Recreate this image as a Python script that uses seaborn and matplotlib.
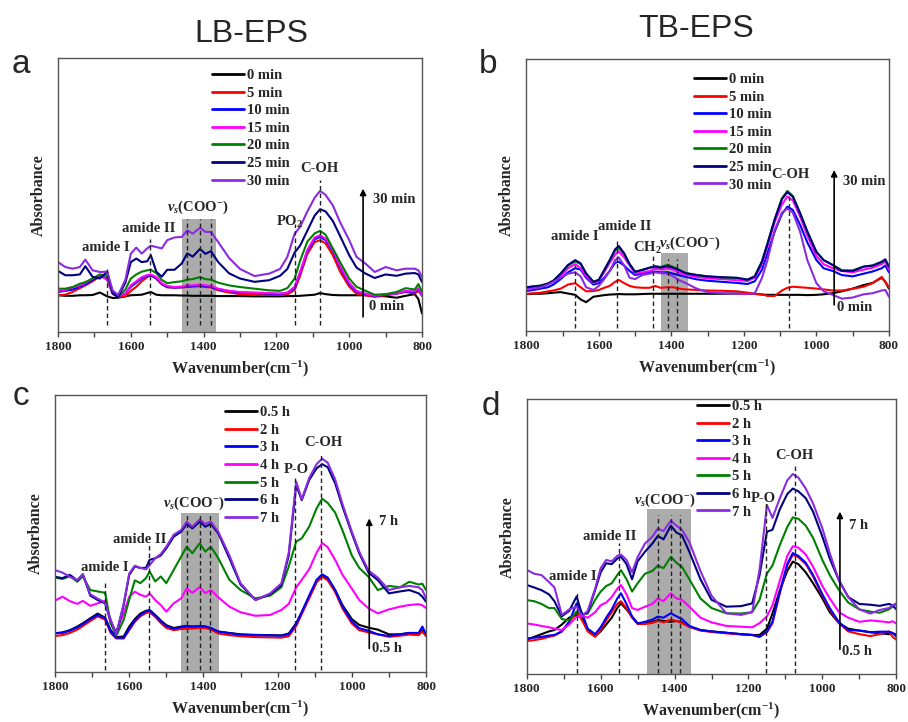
import matplotlib
matplotlib.use("Agg")
import matplotlib.pyplot as plt
from matplotlib.lines import Line2D
import pandas as pd
import seaborn as sns

# ---------------------------------------------------------------- data
wavenumber = [1800, 1780, 1760, 1740, 1725, 1705, 1685, 1665, 1650, 1635,
              1615, 1600, 1585, 1570, 1555, 1545, 1530, 1515, 1500, 1480,
              1460, 1445, 1430, 1410, 1395, 1380, 1360, 1330, 1300, 1260,
              1220, 1190, 1170, 1150, 1135, 1115, 1095, 1080, 1065, 1045,
              1025, 1000, 980, 955, 930, 900, 870, 845, 820, 810, 800]

minute_labels = ["0 min", "5 min", "10 min", "15 min", "20 min", "25 min", "30 min"]
hour_labels = ["0.5 h", "2 h", "3 h", "4 h", "5 h", "6 h", "7 h"]

# LB-EPS, short exposure (min)
LB_0MIN = [13.4, 13.2, 13.2, 13.4, 13.4, 13.5, 14.4, 13.0, 12.4, 12.5,
           13.0, 13.4, 13.5, 13.6, 14.2, 14.6, 13.6, 13.4, 13.4, 13.4,
           13.3, 13.3, 13.2, 13.2, 13.2, 13.2, 13.1, 13.1, 13.1, 13.0,
           13.0, 13.0, 13.1, 13.1, 13.2, 13.4, 13.6, 14.2, 13.8, 13.5,
           13.4, 13.4, 13.4, 13.4, 13.2, 13.0, 12.5, 13.2, 13.8, 12.0, 6.7]
LB_5MIN = [13.4, 13.6, 14.6, 16.0, 17.0, 18.5, 20.3, 19.5, 14.0, 12.8,
           13.0, 15.0, 16.5, 18.5, 20.0, 20.7, 19.5, 17.4, 16.3, 16.2,
           16.3, 16.4, 16.5, 16.7, 16.4, 16.3, 15.2, 14.4, 13.8, 13.6,
           13.6, 13.5, 13.7, 15.3, 20.5, 28.5, 32.8, 33.5, 32.3, 28.0,
           22.0, 16.5, 14.0, 13.4, 12.8, 13.4, 14.0, 14.6, 14.0, 15.0, 13.4]
LB_10MIN = [14.6, 15.0, 15.5, 16.5, 17.3, 19.0, 20.5, 19.5, 14.2, 13.0,
            14.0, 16.5, 18.0, 19.5, 20.5, 20.7, 19.5, 17.5, 16.4, 16.2,
            16.3, 16.6, 16.8, 17.0, 16.7, 16.4, 15.6, 14.9, 14.4, 14.2,
            14.0, 13.9, 14.2, 16.0, 21.5, 29.5, 33.8, 34.7, 33.5, 29.5,
            23.5, 17.5, 14.8, 13.8, 13.1, 13.6, 14.0, 14.8, 14.5, 15.6, 13.2]
LB_15MIN = [15.0, 15.3, 16.3, 17.0, 17.9, 19.5, 20.8, 19.0, 14.0, 13.0,
            14.0, 17.0, 18.5, 20.0, 20.8, 21.0, 20.0, 17.8, 16.8, 16.4,
            16.6, 17.0, 17.0, 17.3, 17.0, 16.8, 15.8, 15.0, 14.6, 14.4,
            14.2, 14.0, 14.4, 16.5, 22.0, 30.0, 34.5, 35.3, 34.0, 30.0,
            24.0, 18.0, 15.0, 14.0, 13.2, 13.8, 14.0, 15.0, 14.8, 16.0, 13.4]
LB_20MIN = [15.8, 15.8, 16.4, 17.6, 18.2, 19.5, 21.0, 20.5, 14.6, 12.8,
            15.5, 19.5, 21.0, 22.0, 22.5, 22.7, 21.5, 19.0, 17.8, 18.2,
            18.5, 19.1, 19.3, 20.0, 19.3, 19.1, 18.0, 17.0, 16.4, 15.8,
            15.2, 15.0, 16.0, 19.5, 26.0, 33.0, 36.0, 36.9, 35.5, 30.5,
            25.5, 19.5, 16.5, 15.0, 13.6, 13.8, 14.6, 16.0, 15.5, 17.5, 14.6]
LB_25MIN = [22.3, 20.7, 20.7, 21.0, 24.0, 20.1, 19.5, 22.0, 14.0, 12.8,
            18.0, 25.5, 26.8, 25.5, 25.8, 28.0, 22.0, 20.2, 22.7, 22.7,
            25.0, 28.7, 27.5, 30.3, 28.5, 29.5, 25.5, 21.4, 19.5, 18.3,
            18.9, 20.5, 23.0, 29.0, 31.5, 37.0, 42.5, 44.8, 44.0, 40.5,
            35.0, 28.0, 23.5, 21.3, 19.7, 21.0, 20.5, 21.3, 21.5, 21.0, 18.2]
LB_30MIN = [25.5, 23.7, 23.1, 23.7, 26.4, 22.5, 21.9, 22.0, 15.2, 13.5,
            19.0, 28.6, 30.8, 28.6, 30.5, 31.5, 31.0, 30.5, 33.5, 34.5,
            34.7, 37.1, 35.9, 38.0, 36.5, 36.5, 32.8, 27.0, 23.0, 20.4,
            21.3, 23.0, 27.4, 35.9, 38.3, 44.0, 49.0, 51.5, 50.0, 46.2,
            40.0, 33.5, 27.4, 24.9, 21.9, 23.7, 22.5, 23.1, 23.1, 22.5, 20.1]

# TB-EPS, short exposure (min)
TB_0MIN = [13.5, 13.6, 13.6, 13.8, 14.0, 14.2, 13.7, 13.2, 11.5, 10.5,
           12.5, 12.8, 13.1, 13.3, 13.4, 13.5, 13.4, 13.4, 13.4, 13.5,
           13.6, 13.6, 13.6, 13.6, 13.6, 13.6, 13.6, 13.6, 13.6, 13.6,
           13.7, 13.7, 13.6, 13.3, 13.2, 13.2, 13.2, 13.2, 13.2, 13.2,
           13.1, 13.2, 13.4, 13.8, 14.5, 15.5, 16.8, 17.6, 19.5, 18.0, 15.5]
TB_5MIN = [13.5, 13.8, 14.0, 14.5, 14.8, 15.5, 17.0, 17.5, 16.0, 14.5,
           14.6, 15.0, 15.8, 16.5, 18.0, 18.7, 17.5, 16.5, 16.0, 15.8,
           15.8, 16.5, 15.8, 16.0, 16.0, 15.5, 15.2, 15.0, 14.8, 14.7,
           14.5, 14.0, 13.5, 13.4, 12.8, 12.8, 14.8, 15.8, 16.2, 16.0,
           15.8, 15.5, 15.2, 14.8, 14.8, 15.4, 16.2, 17.5, 19.8, 18.0, 16.0]
TB_10MIN = [14.6, 15.0, 15.5, 16.0, 17.0, 19.0, 21.5, 23.0, 22.5, 19.5,
            17.0, 17.5, 19.5, 22.0, 25.0, 25.4, 24.0, 22.0, 20.5, 21.0,
            21.5, 21.8, 21.5, 21.5, 21.0, 20.5, 19.8, 18.9, 18.4, 18.0,
            17.6, 17.2, 18.2, 22.5, 28.5, 36.5, 43.0, 45.7, 44.5, 39.0,
            32.5, 26.0, 23.0, 22.0, 20.5, 20.0, 21.0, 21.8, 23.0, 24.0, 21.5]
TB_15MIN = [15.5, 16.0, 16.5, 17.2, 18.2, 20.0, 23.0, 24.5, 23.0, 20.0,
            17.5, 18.5, 21.5, 25.0, 28.0, 29.2, 27.0, 24.0, 21.0, 21.5,
            22.0, 22.8, 22.5, 23.0, 22.5, 21.5, 20.5, 19.8, 19.3, 19.0,
            18.6, 18.3, 19.5, 24.5, 31.0, 40.0, 46.5, 49.4, 48.0, 42.0,
            35.0, 27.5, 24.5, 23.0, 22.0, 21.5, 22.5, 23.2, 24.5, 25.5, 22.5]
TB_20MIN = [16.0, 16.3, 16.7, 17.4, 18.5, 21.0, 24.0, 25.5, 24.5, 21.0,
            18.0, 18.7, 22.2, 25.8, 29.5, 30.5, 28.2, 24.5, 21.7, 22.4,
            23.2, 23.8, 23.5, 24.3, 23.5, 22.5, 21.2, 20.5, 20.0, 19.6,
            19.4, 18.8, 20.0, 25.5, 32.0, 41.0, 48.8, 51.5, 49.6, 43.4,
            36.5, 29.0, 26.0, 24.2, 22.3, 22.2, 23.6, 24.0, 25.2, 26.0, 23.6]
TB_25MIN = [16.0, 16.3, 16.5, 17.4, 18.4, 21.1, 24.2, 26.0, 24.8, 21.1,
            18.0, 18.7, 22.4, 26.0, 30.0, 31.2, 28.5, 24.5, 21.7, 22.4,
            23.2, 23.6, 23.2, 23.8, 23.2, 22.4, 21.2, 20.5, 20.0, 19.7,
            19.5, 18.8, 20.0, 25.5, 32.0, 41.0, 48.5, 51.0, 49.4, 43.2,
            36.5, 29.0, 26.0, 24.2, 22.0, 22.0, 23.6, 24.0, 25.4, 26.3, 23.6]
TB_30MIN = [15.0, 15.5, 16.0, 17.0, 18.0, 19.6, 21.0, 21.5, 20.0, 16.0,
            15.0, 16.5, 19.0, 22.0, 26.0, 27.0, 24.0, 19.5, 19.0, 20.5,
            21.0, 21.5, 21.2, 21.0, 20.0, 18.7, 17.5, 15.5, 14.2, 13.8,
            13.6, 13.5, 13.7, 19.5, 26.0, 37.0, 43.5, 45.0, 43.5, 36.5,
            26.0, 17.5, 14.5, 13.2, 11.8, 12.2, 13.4, 13.8, 14.8, 15.0, 12.5]

# LB-EPS, long exposure (h)
LB_05H = [13.9, 14.2, 15.0, 16.3, 17.5, 19.3, 21.0, 19.5, 15.0, 12.5,
          12.7, 16.3, 19.0, 21.0, 22.0, 22.3, 20.5, 18.5, 16.8, 15.8,
          16.3, 16.5, 16.3, 16.3, 16.2, 15.6, 14.5, 14.0, 13.5, 13.3,
          13.2, 13.1, 13.8, 17.5, 21.5, 27.0, 32.5, 34.9, 33.7, 29.5,
          24.0, 19.0, 16.9, 15.9, 15.2, 13.5, 13.5, 14.0, 13.8, 15.0, 13.5]
LB_2H = [12.9, 13.2, 14.0, 15.2, 16.5, 18.3, 20.0, 18.8, 14.0, 12.0,
         12.0, 15.0, 18.0, 20.0, 21.2, 21.5, 19.8, 17.6, 15.8, 15.0,
         15.4, 15.6, 15.6, 15.8, 15.8, 15.2, 13.8, 13.2, 12.8, 12.5,
         12.4, 12.3, 12.8, 16.5, 20.8, 26.5, 32.3, 34.3, 33.0, 28.8,
         22.8, 17.4, 15.0, 14.2, 13.5, 12.6, 13.0, 13.4, 13.2, 14.5, 12.8]
LB_3H = [13.9, 14.0, 14.8, 16.0, 17.2, 19.0, 20.5, 19.3, 14.5, 12.3,
         12.2, 15.5, 18.5, 20.5, 21.8, 22.0, 20.3, 18.2, 16.5, 15.5,
         16.1, 16.3, 16.3, 16.5, 16.4, 15.8, 14.5, 13.9, 13.4, 13.2,
         13.1, 13.0, 13.5, 17.2, 21.5, 27.5, 33.2, 35.2, 34.0, 29.5,
         23.5, 18.1, 15.7, 14.8, 13.5, 12.9, 13.5, 14.0, 14.0, 16.3, 13.6]
LB_4H = [25.7, 27.1, 25.5, 24.5, 25.6, 23.8, 24.7, 25.5, 17.5, 14.5,
         21.0, 27.1, 28.9, 27.8, 27.1, 28.3, 25.9, 24.1, 21.7, 24.7,
         26.5, 30.1, 28.5, 30.5, 28.4, 29.5, 26.9, 23.5, 21.5, 20.2,
         20.5, 22.3, 24.5, 30.5, 33.2, 37.0, 43.0, 46.5, 45.0, 40.4,
         35.0, 30.0, 25.9, 22.9, 21.1, 22.5, 23.5, 24.1, 24.4, 24.0, 23.0]
LB_5H = [34.0, 33.5, 34.5, 32.5, 34.5, 29.5, 29.0, 28.5, 17.5, 13.0,
         18.7, 26.0, 33.0, 32.0, 33.8, 36.2, 32.6, 34.4, 32.0, 36.8,
         41.6, 45.2, 42.8, 46.4, 43.4, 45.2, 41.0, 33.2, 29.5, 26.5,
         27.5, 30.5, 38.0, 47.0, 48.2, 52.4, 59.0, 62.5, 61.0, 57.5,
         51.0, 42.0, 37.5, 34.3, 29.5, 31.0, 30.5, 32.5, 31.5, 31.8, 29.5]
LB_6H = [34.3, 33.8, 35.0, 33.0, 35.2, 27.5, 25.9, 24.7, 18.5, 13.5,
         24.0, 35.0, 38.0, 37.5, 37.5, 40.4, 41.0, 42.0, 44.6, 48.8,
         50.6, 53.4, 51.8, 54.2, 52.4, 53.4, 50.0, 41.0, 31.5, 25.9,
         28.0, 31.3, 42.0, 67.5, 62.0, 69.3, 73.5, 75.0, 73.9, 68.1,
         59.6, 50.0, 42.8, 35.8, 33.1, 28.3, 29.0, 29.5, 28.3, 27.1, 25.3]
LB_7H = [36.7, 35.8, 34.3, 33.1, 35.2, 28.0, 26.4, 25.0, 18.7, 13.5,
         24.5, 35.5, 38.3, 37.5, 37.0, 38.5, 41.0, 42.5, 45.2, 49.5,
         51.2, 54.2, 52.4, 55.0, 53.4, 54.2, 50.6, 42.0, 32.0, 25.9,
         28.3, 31.9, 43.0, 68.7, 62.3, 70.0, 75.0, 77.0, 75.5, 69.5,
         60.5, 50.6, 43.4, 36.5, 34.0, 29.5, 30.5, 31.0, 30.5, 29.5, 26.5]

# TB-EPS, long exposure (h)
TB_05H = [12.4, 13.5, 14.5, 15.5, 16.0, 18.0, 20.5, 21.5, 20.5, 16.0,
          13.8, 15.5, 18.0, 20.5, 24.0, 25.7, 23.5, 20.9, 18.4, 18.4,
          19.0, 19.6, 19.3, 19.0, 19.3, 18.8, 17.2, 16.0, 15.5, 15.0,
          14.5, 14.2, 14.2, 16.5, 22.0, 30.5, 37.5, 40.9, 40.0, 37.0,
          33.0, 27.5, 22.5, 18.5, 16.5, 15.8, 15.2, 14.8, 14.5, 14.8, 14.4]
TB_2H = [12.0, 12.3, 12.8, 13.5, 14.0, 15.5, 19.0, 22.5, 19.5, 15.5,
         13.5, 16.0, 19.5, 22.5, 25.5, 26.5, 24.0, 20.5, 18.2, 18.2,
         18.6, 19.3, 18.8, 19.8, 19.3, 18.5, 17.2, 15.8, 15.3, 14.8,
         14.4, 14.2, 13.6, 15.2, 18.5, 29.5, 39.5, 43.4, 42.5, 40.0,
         35.5, 28.5, 23.5, 18.5, 15.5, 14.5, 13.8, 14.5, 15.5, 13.5, 12.5]
TB_3H = [13.0, 13.2, 13.5, 14.0, 14.2, 15.5, 19.0, 25.7, 22.0, 16.5,
         14.5, 17.0, 20.5, 23.5, 27.5, 29.4, 25.5, 20.9, 18.4, 19.0,
         19.8, 20.9, 20.5, 22.1, 21.0, 20.0, 17.5, 16.0, 15.5, 15.0,
         14.5, 14.2, 13.5, 15.5, 19.0, 30.0, 40.0, 44.0, 43.0, 40.5,
         36.0, 29.0, 24.0, 18.8, 16.0, 15.8, 15.2, 15.4, 15.4, 15.0, 13.6]
TB_4H = [18.4, 18.0, 17.5, 17.0, 16.5, 16.0, 18.0, 20.9, 21.0, 20.5,
         22.5, 25.0, 26.0, 28.0, 31.0, 32.4, 29.0, 24.0, 23.3, 24.5,
         25.5, 27.5, 26.5, 29.4, 27.5, 27.0, 24.5, 20.5, 18.8, 17.5,
         17.2, 17.0, 18.5, 21.0, 25.0, 34.0, 43.0, 46.5, 46.0, 43.5,
         39.0, 32.0, 27.5, 22.5, 20.5, 19.0, 19.5, 19.2, 18.8, 19.2, 18.4]
TB_5H = [26.9, 26.5, 25.5, 24.0, 24.0, 20.0, 19.5, 22.7, 21.5, 22.0,
         27.0, 30.0, 32.0, 33.0, 36.0, 37.8, 34.5, 30.0, 33.0, 36.5,
         37.5, 39.5, 38.5, 42.7, 40.5, 39.0, 34.5, 27.5, 24.0, 22.1,
         22.0, 22.5, 27.0, 36.6, 39.5, 47.0, 53.5, 57.0, 56.5, 54.0,
         49.5, 41.5, 36.0, 30.5, 26.0, 23.5, 22.7, 22.3, 23.5, 24.5, 25.5]
TB_6H = [32.4, 31.5, 30.5, 29.0, 26.5, 21.0, 23.0, 28.2, 21.5, 22.5,
         30.5, 37.0, 40.3, 40.0, 42.0, 42.7, 40.0, 34.5, 41.0, 44.5,
         47.5, 50.3, 49.0, 54.0, 51.5, 50.5, 44.5, 34.5, 27.0, 24.5,
         24.7, 25.7, 36.0, 51.8, 52.5, 60.0, 65.5, 67.5, 66.5, 64.0,
         59.0, 50.0, 42.0, 34.0, 28.0, 25.5, 25.2, 24.8, 25.5, 25.0, 23.5]
TB_7H = [37.9, 36.5, 36.0, 33.5, 31.5, 21.5, 23.5, 24.5, 21.0, 23.0,
         31.0, 38.5, 41.5, 41.0, 43.0, 43.5, 41.5, 37.0, 42.5, 47.5,
         50.0, 53.0, 52.0, 55.8, 54.0, 52.5, 48.0, 37.5, 28.5, 22.1,
         21.5, 22.5, 38.0, 61.5, 56.8, 64.0, 70.5, 72.8, 71.5, 67.5,
         62.0, 53.0, 44.0, 34.0, 28.0, 23.5, 22.0, 23.3, 24.0, 25.0, 25.7]

# ---------------------------------------------------------------- style
sns.set_theme(style="white")
plt.rcParams["font.family"] = ["Liberation Serif", "DejaVu Serif"]
plt.rcParams["font.weight"] = "bold"
plt.rcParams["axes.labelweight"] = "bold"
plt.rcParams["mathtext.fontset"] = "custom"
plt.rcParams["mathtext.rm"] = "Liberation Serif:bold"
plt.rcParams["mathtext.it"] = "Liberation Serif:italic:bold"
plt.rcParams["mathtext.bf"] = "Liberation Serif:bold"

palette = ["#000000", "#FF0000", "#0000FF", "#FF00FF", "#008000", "#000080", "#8A2BE2"]
SANS = ["Liberation Sans", "DejaVu Sans"]
COO = r"$v_s$(COO$^{-}$)"

fig = plt.figure(figsize=(9.08, 7.22), dpi=100)

panels = [
    dict(rect=[0.0639, 0.5402, 0.4009, 0.3795], labels=minute_labels,
         series=[LB_0MIN, LB_5MIN, LB_10MIN, LB_15MIN, LB_20MIN, LB_25MIN, LB_30MIN],
         legend_at=(0.423, 0.960),
         dashes=[(1665, 23.1), (1548, 34.0), (1445, 41.4), (1410, 41.4), (1380, 41.4),
                 (1150, 39.3), (1080, 55.4)], dash_base=2.4,
         box=(1460, 1366, 41.4),
         notes=[("amide I", 1668, 30.8, "center"), ("amide II", 1550, 37.7, "center"),
                (COO, 1415, 45.6, "center"), ("PO$_2$", 1163, 40.1, "center"),
                ("C-OH", 1081, 59.6, "center"), ("30 min", 935, 48.3, "left"),
                ("0 min", 946, 9.4, "left")],
         arrow=(962, 5.5, 52.3)),
    dict(rect=[0.5796, 0.5420, 0.3994, 0.3759], labels=minute_labels,
         series=[TB_0MIN, TB_5MIN, TB_10MIN, TB_15MIN, TB_20MIN, TB_25MIN, TB_30MIN],
         legend_at=(0.462, 0.950),
         dashes=[(1665, 24.2), (1550, 33.7), (1450, 27.9), (1408, 26.3), (1385, 26.3),
                 (1075, 50.2)], dash_base=0.9,
         box=(1428, 1355, 28.5),
         notes=[("amide I", 1665, 34.6, "center"), ("amide II", 1529, 38.3, "center"),
                ("CH$_2$", 1467, 30.3, "center"), (COO, 1350, 32.2, "center"),
                ("C-OH", 1072, 57.4, "center"), ("30 min", 928, 54.9, "left"),
                ("0 min", 942, 8.6, "left")],
         arrow=(951, 9.5, 59.2)),
    dict(rect=[0.0606, 0.0697, 0.4086, 0.3832], labels=hour_labels,
         series=[LB_05H, LB_2H, LB_3H, LB_4H, LB_5H, LB_6H, LB_7H],
         legend_at=(0.458, 0.960),
         dashes=[(1665, 32.5), (1548, 46.4), (1445, 57.2), (1410, 57.2), (1382, 57.2),
                 (1153, 70.5), (1084, 78.9)], dash_base=0.6,
         box=(1460, 1358, 57.2),
         notes=[("amide I", 1665, 37.7, "center"), ("amide II", 1573, 47.8, "center"),
                (COO, 1427, 60.8, "center"), ("P-O", 1150, 73.1, "center"),
                ("C-OH", 1077, 82.9, "center"), ("7 h", 928, 54.2, "left"),
                ("0.5 h", 946, 8.4, "left")],
         arrow=(953, 8.4, 55.4)),
    dict(rect=[0.5801, 0.0665, 0.4070, 0.3805], labels=hour_labels,
         series=[TB_05H, TB_2H, TB_3H, TB_4H, TB_5H, TB_6H, TB_7H],
         legend_at=(0.461, 0.998),
         dashes=[(1665, 30.0), (1550, 47.6), (1445, 57.9), (1409, 57.9), (1386, 57.9),
                 (1153, 62.1), (1075, 76.7)], dash_base=0.5,
         box=(1474, 1356, 60.0),
         notes=[("amide I", 1675, 35.4, "center"), ("amide II", 1575, 50.0, "center"),
                (COO, 1427, 63.3, "center"), ("P-O", 1159, 64.0, "center"),
                ("C-OH", 1077, 79.4, "center"), ("7 h", 928, 54.2, "left"),
                ("0.5 h", 946, 8.1, "left")],
         arrow=(952.5, 9.0, 59.1)),
]

for p in panels:
    ax = fig.add_axes(p["rect"])
    frames = [pd.DataFrame({"wavenumber": wavenumber, "absorbance": vals, "series": lab})
              for lab, vals in zip(p["labels"], p["series"])]
    df = pd.concat(frames, ignore_index=True)

    # shaded carboxylate band
    x0, x1, top = p["box"]
    ax.axvspan(x0, x1, ymin=0, ymax=top / 100.0, color="#ABABAB", lw=0, zorder=0.5)

    sns.lineplot(data=df, x="wavenumber", y="absorbance", hue="series",
                 hue_order=p["labels"], palette=palette, estimator=None, sort=False,
                 lw=1.5, legend=False, ax=ax, zorder=2)

    # band markers
    for x, ytop in p["dashes"]:
        ax.vlines(x, p["dash_base"], ytop, colors="#222222", linestyles=(0, (3.2, 2.2)),
                  lw=1.0, zorder=3)

    for txt, x, y, ha in p["notes"]:
        ax.text(x, y, txt, ha=ha, va="center", fontsize=10.5, fontweight="bold", zorder=4)

    ax_x, y0, y1 = p["arrow"]
    ax.annotate("", xy=(ax_x, y1), xytext=(ax_x, y0),
                arrowprops=dict(arrowstyle="-|>", color="black", lw=1.2,
                                mutation_scale=9, shrinkA=0, shrinkB=0))

    handles = [Line2D([0], [0], color=c, lw=2.0) for c in palette]
    ax.legend(handles, p["labels"], loc="upper left", bbox_to_anchor=p["legend_at"],
              frameon=False, borderpad=0, borderaxespad=0, handlelength=2.2,
              handletextpad=0.2, labelspacing=0.3,
              prop=dict(family="Liberation Serif", weight="bold", size=10.5))

    ax.set_xlim(1800, 800)
    ax.set_ylim(0, 100)
    ax.set_xticks([1800, 1600, 1400, 1200, 1000, 800])
    ax.set_xticks([1700, 1500, 1300, 1100, 900], minor=True)
    ax.set_yticks([])
    ax.tick_params(axis="x", which="both", direction="out", length=3.5, width=1.0,
                   color="#444444", labelsize=9.5, pad=3, bottom=True)
    for lab in ax.get_xticklabels():
        lab.set_fontweight("bold")
    ax.set_xlabel("Wavenumber(cm$^{-1}$)", fontsize=11.5, fontweight="bold", labelpad=4)
    ax.set_ylabel("Absorbance", fontsize=11.5, fontweight="bold", labelpad=8)
    for s in ax.spines.values():
        s.set_color("#555555")
        s.set_linewidth(1.0)

# panel letters and column headings
for letter, x, y in [("a", 12, 73), ("b", 479, 73), ("c", 13, 405), ("d", 482, 415)]:
    fig.text(x / 908, 1 - y / 722, letter, family=SANS, fontsize=24,
             fontweight="normal", ha="left", va="baseline")
fig.text(251 / 908, 1 - 42 / 722, "LB-EPS", family=SANS, fontsize=23,
         fontweight="normal", ha="center", va="baseline")
fig.text(696 / 908, 1 - 37 / 722, "TB-EPS", family=SANS, fontsize=23,
         fontweight="normal", ha="center", va="baseline")

fig.savefig("out.png", dpi=100, facecolor="white")
